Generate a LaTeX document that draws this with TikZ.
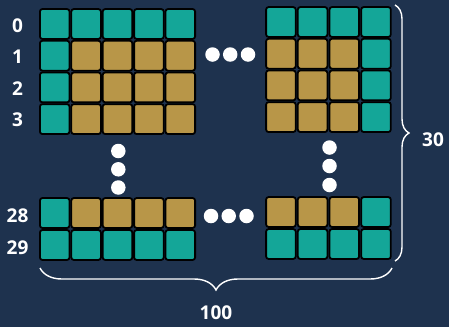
\documentclass[tikz,border=0pt]{standalone}
\usepackage{fontspec}
\setmainfont{Open Sans}
\usepackage{tikz}
\usetikzlibrary{decorations.pathreplacing}
\definecolor{bgc}{RGB}{30,50,78}
\definecolor{ct}{RGB}{20,166,152}
\definecolor{cg}{RGB}{184,150,72}
\tikzstyle{cell}=[rectangle, draw=black, line width=1.8pt, rounded corners=2.5pt, minimum width=29.6pt, minimum height=29.9pt, inner sep=0pt]
\tikzstyle{dot}=[circle, fill=white, minimum size=14.5pt, inner sep=0pt]
\tikzstyle{lbl}=[text=white, font=\fontsize{19}{21}\selectfont\bfseries, inner sep=0pt]
\tikzstyle{brace}=[decorate, white, line width=1.4pt]

\begin{document}
\begin{tikzpicture}[x=1pt,y=-1pt]

    % background and page size
    \fill[bgc] (0,0) rectangle (449,327);
    \useasboundingbox (0,0) rectangle (449,327);

    % top left block, rows 0 to 3
    \foreach \r/\y/\cols in {0/24/{t,t,t,t,t},1/55.7/{t,g,g,g,g},2/87.4/{t,g,g,g,g},3/119.1/{t,g,g,g,g}}
    \foreach \k [count=\c] in \cols
    \node[cell, fill=c\k] (tl-\r-\c) at ({23.3+31.4*\c},\y) {};

    % top right block
    \foreach \r/\y/\cols in {0/22/{t,t,t,t},1/53.7/{g,g,g,t},2/85.4/{g,g,g,t},3/117.1/{g,g,g,t}}
    \foreach \k [count=\c] in \cols
    \node[cell, fill=c\k] (tr-\r-\c) at ({249.2+31.7*\c},\y) {};

    % bottom left block, rows 28 and 29
    \foreach \r/\y/\cols in {28/213/{t,g,g,g,g},29/245/{t,t,t,t,t}}
    \foreach \k [count=\c] in \cols
    \node[cell, fill=c\k] (bl-\r-\c) at ({23.3+31.4*\c},\y) {};

    % bottom right block
    \foreach \r/\y/\cols in {28/212/{g,g,g,t},29/244/{t,t,t,t}}
    \foreach \k [count=\c] in \cols
    \node[cell, fill=c\k] (br-\r-\c) at ({249.2+31.7*\c},\y) {};

    % row numbers
    \foreach \t/\y in {0/26,1/57,2/89,3/120,28/216,29/248}
    \node[lbl] (row\t) at (17.5,\y) {\t};

    % dots between the blocks
    \foreach \i/\x in {1/212.5,2/230.2,3/248}
    \node[dot] (htop\i) at (\x,54.5) {};
    \foreach \i/\x in {1/211,2/228.7,3/246.5}
    \node[dot] (hbot\i) at (\x,216) {};
    \foreach \i/\y in {1/151,2/169.3,3/187.5}
    \node[dot] (vleft\i) at (118.3,\y) {};
    \foreach \i/\y in {1/147.5,2/166,3/185}
    \node[dot] (vright\i) at (329.5,\y) {};

    % braces
    \coordinate (rtop) at (395,5);
    \coordinate (rbot) at (395,261);
    \coordinate (bright) at (392,268);
    \coordinate (bleft) at (40,268);
    \draw[brace, decoration={brace, amplitude=14pt}] (rtop) -- (rbot);
    \draw[brace, decoration={brace, amplitude=22pt}] (bright) -- (bleft);
    \node[lbl] (rows) at (433,140) {30};
    \node[lbl] (cols) at (216,313) {100};
\end{tikzpicture}
\end{document}
